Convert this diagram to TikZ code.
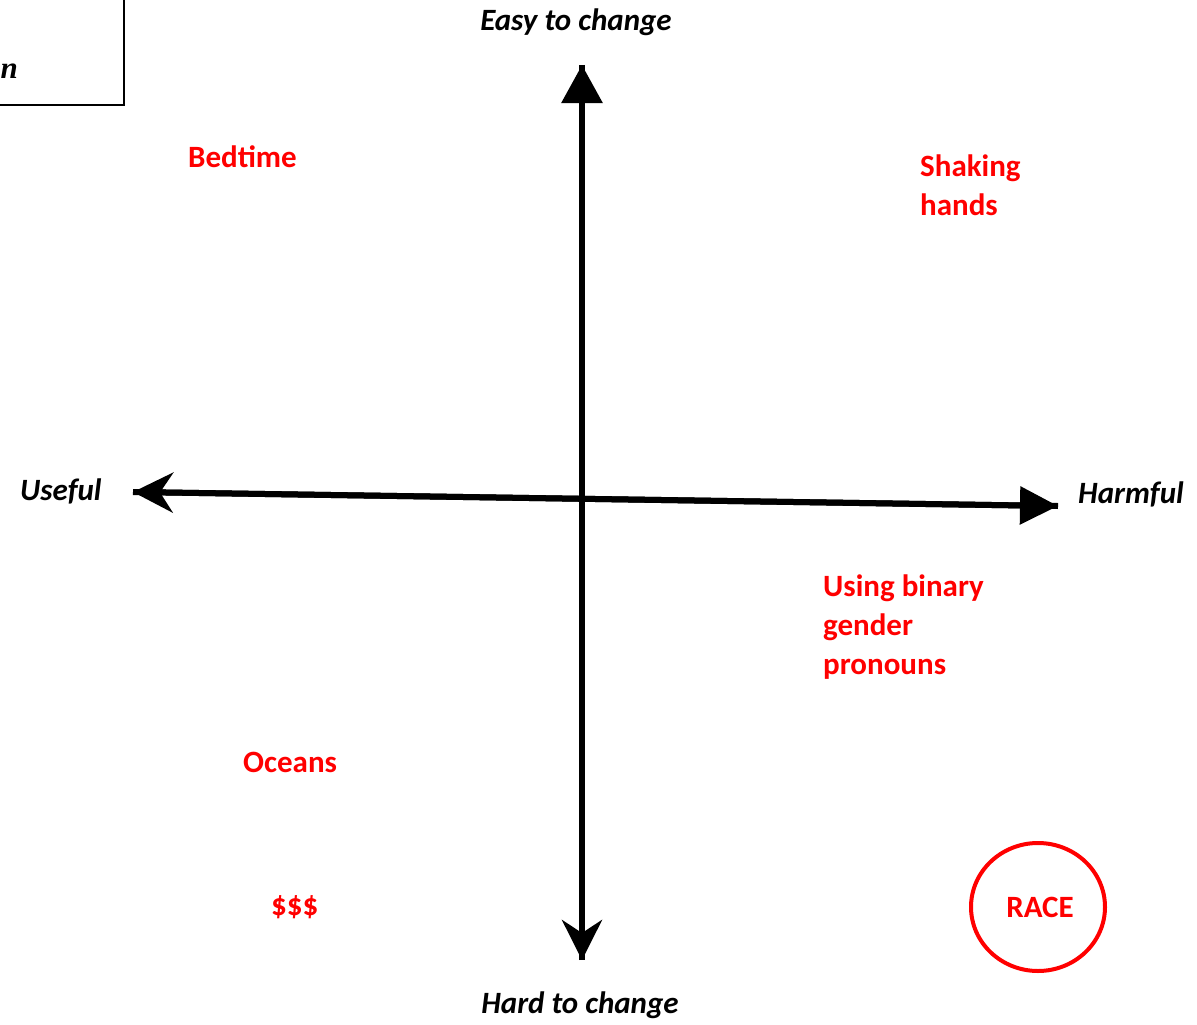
\documentclass[tikz,border=0pt]{standalone}
\usepackage{fontspec}
\setmainfont{Carlito}
\newfontfamily\serifbi{Liberation Serif}
\usetikzlibrary{arrows.meta}
\definecolor{lblred}{RGB}{255,0,0}
\tikzset{
  axis/.style={line width=6pt},
  axlabel/.style={font=\fontsize{31}{39}\selectfont\bfseries\itshape, inner sep=0pt},
  item/.style={font=\fontsize{31}{39}\selectfont\bfseries, text=lblred, inner sep=0pt, align=left, anchor=west},
}
\begin{document}
\begin{tikzpicture}[x=1pt,y=-1pt]
\useasboundingbox (0,0) rectangle (1197,1025);
\begin{scope}
\clip (0,0) rectangle (1197,1025);
\draw[line width=1.2pt] (-20,-20) rectangle (124,105);
\node[font=\fontsize{31}{37}\selectfont\serifbi\bfseries\itshape, anchor=west, inner sep=0pt] (boxtxt) at (0.5,71) {n};
\end{scope}
% axes
\coordinate (top) at (582,65);
\coordinate (bot) at (582,960);
\coordinate (lft) at (133,492);
\coordinate (rgt) at (1058,506);
\draw[axis, -{Triangle[length=38pt,width=40pt]}] (bot) -- (top);
\draw[axis, -{Stealth[length=40pt,width=40pt,inset=13pt]}] (top) -- (bot);
\draw[axis, -{Stealth[length=40pt,width=40pt,inset=13pt]}] (rgt) -- (lft);
\draw[axis, -{Triangle[length=38pt,width=37pt]}] (lft) -- (rgt);
% axis labels
\node[axlabel] (easy) at (576,22) {Easy to change};
\node[axlabel] (hard) at (580,1005) {Hard to change};
\node[axlabel, anchor=west] (useful) at (20,491) {Useful};
\node[axlabel, anchor=west] (harmful) at (1078,494) {Harmful};
% items
\node[item] (bed) at (188,157) {Bedtime};
\node[item] (shake) at (920,185) {Shaking\\hands};
\node[item] (binary) at (823,627) {Using binary\\gender\\pronouns};
\node[item] (ocean) at (243,762) {Oceans};
\node[item] (money) at (271,907) {\$\$\$};
\node[item, anchor=center] (race) at (1040,907) {RACE};
\draw[lblred, line width=4pt] (1038,907) ellipse [x radius=67, y radius=64];
\end{tikzpicture}
\end{document}
